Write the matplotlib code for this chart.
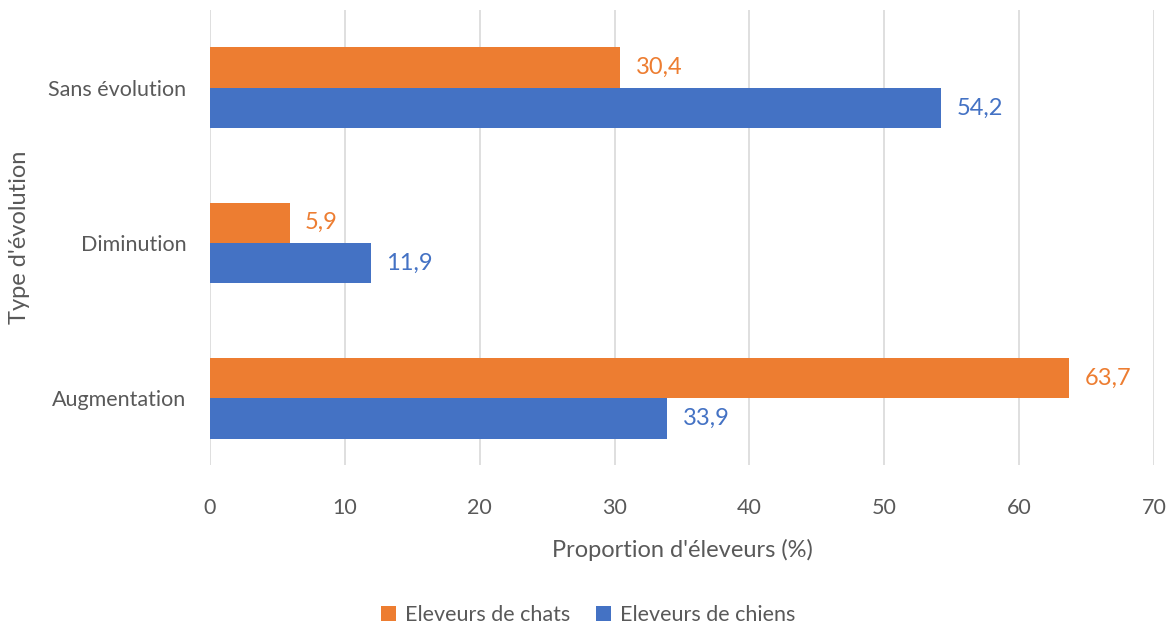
import matplotlib
matplotlib.use("Agg")
import matplotlib.pyplot as plt
import numpy as np

categories = ["Augmentation", "Diminution", "Sans évolution"]
chats = [63.7, 5.9, 30.4]
chiens = [33.9, 11.9, 54.2]
x_ticks = [0, 10, 20, 30, 40, 50, 60, 70]

ORANGE = "#ED7D31"
BLUE = "#4472C4"
GREY = "#595959"

plt.rcParams["font.family"] = ["Lato", "DejaVu Sans"]

fig = plt.figure(figsize=(11.76, 6.3), dpi=100)
ax = fig.add_axes([0.1786, 0.262, 0.8027, 0.722])

y = np.arange(len(categories))
h = 0.26
b1 = ax.barh(y + h / 2, chats, height=h, color=ORANGE, label="Eleveurs de chats", zorder=3)
b2 = ax.barh(y - h / 2, chiens, height=h, color=BLUE, label="Eleveurs de chiens", zorder=3)

for bars, vals, col in [(b1, chats, ORANGE), (b2, chiens, BLUE)]:
    for r, v in zip(bars, vals):
        ax.text(v + 1.15, r.get_y() + r.get_height() / 2, f"{v:.1f}".replace(".", ","),
                va="center", ha="left", color=col, fontsize=17)

ax.set_xlim(0, 70)
ax.set_ylim(-0.43, 2.5)
ax.set_xticks(x_ticks)
ax.set_yticks(y)
ax.set_yticklabels(categories)
ax.tick_params(axis="both", length=0, labelsize=15.5, colors=GREY)
ax.tick_params(axis="x", pad=24)
ax.tick_params(axis="y", pad=17)
ax.grid(axis="x", color="#D9D9D9", linewidth=1.2, zorder=0)
for s in ax.spines.values():
    s.set_visible(False)

ax.set_xlabel("Proportion d'éleveurs (%)", fontsize=17, color=GREY)
ax.xaxis.set_label_coords(0.5, -0.163)
ax.set_ylabel("Type d'évolution", fontsize=17, color=GREY)
ax.yaxis.set_label_coords(-0.191, 0.5)

fig.legend(handles=[b1, b2], loc="center", bbox_to_anchor=(0.5, 1 - 615 / 630), ncol=2,
           frameon=False, fontsize=15.5, labelcolor=GREY, handlelength=0.7, handleheight=0.7,
           columnspacing=1.2, handletextpad=0.4)

fig.savefig("out.png", dpi=100)
